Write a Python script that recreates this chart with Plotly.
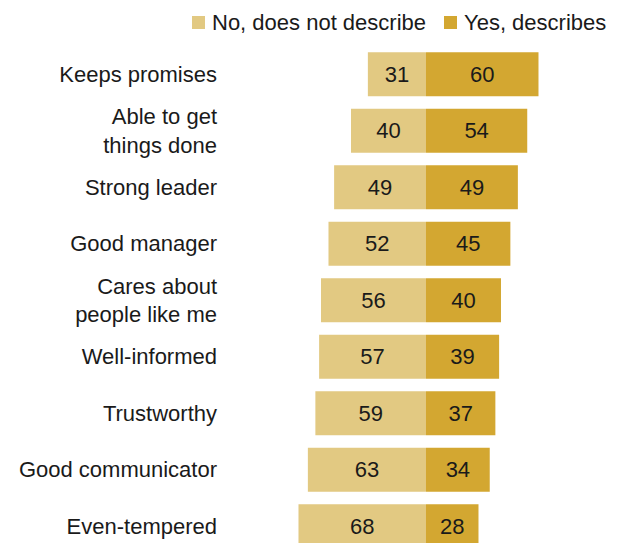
import plotly.graph_objects as go

# Traits and survey shares (%)
traits = [
    "Keeps promises",
    "Able to get<br>things done",
    "Strong leader",
    "Good manager",
    "Cares about<br>people like me",
    "Well-informed",
    "Trustworthy",
    "Good communicator",
    "Even-tempered",
]
no_values = [31, 40, 49, 52, 56, 57, 59, 63, 68]
yes_values = [60, 54, 49, 45, 40, 39, 37, 34, 28]
series_names = ["No, does not describe", "Yes, describes"]

NO_COLOR = "#E2C982"
YES_COLOR = "#D3A731"
FONT = "Liberation Sans"
SIZE = 22
TEXT_COLOR = "#1a1a1a"

W, H = 617, 543
ML, MT = 230, 46
PW, PH = W - ML, H - MT


def px_x(xp):
    return (xp - ML) / PW


def px_y(yp):
    return 1 - (yp - MT) / PH


fig = go.Figure()
fig.add_trace(go.Bar(
    name=series_names[0],
    y=traits,
    x=[-v for v in no_values],
    orientation="h",
    marker=dict(color=NO_COLOR, line=dict(width=0)),
    text=[str(v) for v in no_values],
    textposition="inside",
    insidetextanchor="middle",
    textfont=dict(size=SIZE, color=TEXT_COLOR, family=FONT),
    width=0.78,
    hoverinfo="skip",
))
fig.add_trace(go.Bar(
    name=series_names[1],
    y=traits,
    x=yes_values,
    orientation="h",
    marker=dict(color=YES_COLOR, line=dict(width=0)),
    text=[str(v) for v in yes_values],
    textposition="inside",
    insidetextanchor="middle",
    textfont=dict(size=SIZE, color=TEXT_COLOR, family=FONT),
    width=0.78,
    hoverinfo="skip",
))

# Legend row above the bars: swatch + label per series
legend_items = [(192, NO_COLOR, series_names[0]), (444, YES_COLOR, series_names[1])]
for x0, color, label in legend_items:
    fig.add_shape(
        type="rect", xref="paper", yref="paper",
        x0=px_x(x0), x1=px_x(x0 + 13), y0=px_y(29), y1=px_y(16),
        fillcolor=color, line=dict(width=0),
    )
    fig.add_annotation(
        xref="paper", yref="paper",
        x=px_x(x0 + 18), y=px_y(22.5),
        xanchor="left", yanchor="middle",
        text=label, showarrow=False,
        font=dict(size=SIZE, family=FONT, color=TEXT_COLOR),
    )

fig.update_layout(
    width=W,
    height=H,
    barmode="relative",
    plot_bgcolor="white",
    paper_bgcolor="white",
    margin=dict(l=ML, r=0, t=MT, b=0),
    font=dict(family=FONT, size=SIZE, color=TEXT_COLOR),
    uniformtext=dict(mode="show", minsize=SIZE),
    showlegend=False,
    xaxis=dict(
        range=[-104.53, 101.87],
        visible=False,
        fixedrange=True,
    ),
    yaxis=dict(
        range=[8.296, -0.5],
        showgrid=False,
        zeroline=False,
        showline=False,
        ticks="",
        ticklabelstandoff=12,
        tickfont=dict(size=SIZE, family=FONT),
        fixedrange=True,
    ),
)

fig.write_html("out.html")
